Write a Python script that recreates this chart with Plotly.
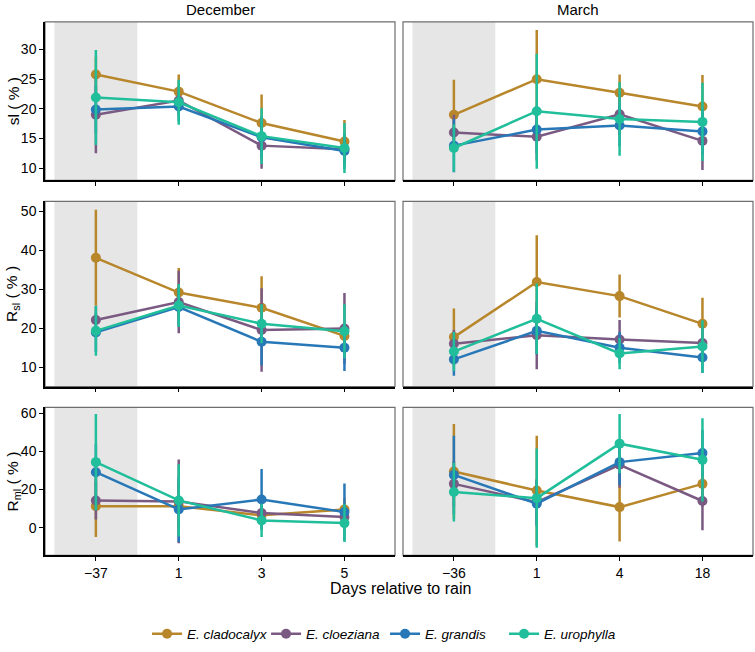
import plotly.graph_objects as go

species = ["E. cladocalyx", "E. cloeziana", "E. grandis", "E. urophylla"]
colors = ["#B8862B", "#7A5A82", "#2878B8", "#20BE9A"]

dec_days = ["−37", "1", "3", "5"]
mar_days = ["−36", "1", "4", "18"]

# sl (%) December
sl_dec_mean = {"E. cladocalyx": [25.8, 22.9, 17.6, 14.5], "E. cloeziana": [19.0, 21.4, 13.8, 13.2],
               "E. grandis": [19.9, 20.4, 15.2, 12.9], "E. urophylla": [21.9, 21.1, 15.4, 13.4]}
sl_dec_err = {"E. cladocalyx": [3.0, 2.9, 4.8, 3.6], "E. cloeziana": [6.5, 2.5, 3.9, 2.5],
              "E. grandis": [4.0, 2.5, 3.5, 3.0], "E. urophylla": [8.0, 3.8, 4.7, 4.2]}
# sl (%) March
sl_mar_mean = {"E. cladocalyx": [19.0, 25.0, 22.7, 20.4], "E. cloeziana": [16.0, 15.3, 19.1, 14.6],
               "E. grandis": [13.8, 16.5, 17.2, 16.2], "E. urophylla": [13.4, 19.6, 18.3, 17.8]}
sl_mar_err = {"E. cladocalyx": [5.9, 8.3, 3.1, 5.3], "E. cloeziana": [3.0, 4.0, 3.5, 4.9],
              "E. grandis": [4.5, 4.0, 3.5, 4.0], "E. urophylla": [4.0, 9.7, 6.2, 6.6]}
# R_sl (%) December
rsl_dec_mean = {"E. cladocalyx": [38.1, 29.2, 25.3, 18.1], "E. cloeziana": [22.2, 26.8, 19.6, 20.0],
                "E. grandis": [19.0, 25.5, 16.6, 15.1], "E. urophylla": [19.4, 25.9, 21.2, 19.3]}
rsl_dec_err = {"E. cladocalyx": [12.3, 6.3, 8.1, 3.0], "E. cloeziana": [3.5, 8.0, 10.7, 9.1],
               "E. grandis": [5.0, 5.0, 6.0, 6.0], "E. urophylla": [6.4, 5.5, 5.0, 6.9]}
# R_sl (%) March
rsl_mar_mean = {"E. cladocalyx": [17.8, 31.9, 28.3, 21.2], "E. cloeziana": [16.1, 18.3, 17.2, 16.3],
                "E. grandis": [12.1, 19.4, 15.1, 12.6], "E. urophylla": [14.1, 22.5, 13.6, 15.4]}
rsl_mar_err = {"E. cladocalyx": [7.3, 12.0, 5.5, 6.7], "E. cloeziana": [3.5, 8.7, 5.0, 4.0],
               "E. grandis": [4.2, 6.0, 4.0, 4.0], "E. urophylla": [5.0, 9.0, 4.0, 6.7]}
# R_ml (%) December
rml_dec_mean = {"E. cladocalyx": [11.3, 11.3, 6.5, 9.6], "E. cloeziana": [14.3, 13.8, 7.7, 5.6],
                "E. grandis": [29.1, 9.6, 14.8, 8.2], "E. urophylla": [34.4, 14.3, 3.8, 2.4]}
rml_dec_err = {"E. cladocalyx": [16.2, 12.0, 6.0, 6.0], "E. cloeziana": [10.0, 22.0, 6.0, 6.0],
               "E. grandis": [15.0, 17.1, 16.0, 15.0], "E. urophylla": [25.3, 19.0, 8.7, 9.9]}
# R_ml (%) March
rml_mar_mean = {"E. cladocalyx": [29.5, 19.5, 10.8, 23.0], "E. cloeziana": [23.0, 13.4, 33.0, 14.0],
                "E. grandis": [27.7, 12.6, 34.4, 39.2], "E. urophylla": [18.7, 15.5, 44.1, 35.6]}
rml_mar_err = {"E. cladocalyx": [24.9, 28.8, 18.0, 12.0], "E. cloeziana": [12.0, 12.0, 12.0, 15.4],
               "E. grandis": [20.6, 12.0, 12.0, 12.0], "E. urophylla": [15.4, 26.1, 15.6, 21.8]}

row_titles = ["sl ( % )", "R<sub>sl</sub> ( % )", "R<sub>ml</sub> ( % )"]
row_ticks = [[10, 15, 20, 25, 30], [10, 20, 30, 40, 50], [0, 20, 40, 60]]
row_ranges = [[7.93, 34.65], [5.15, 52.55], [-14.5, 63.1]]

W, H = 755, 652
col_px = [(45, 395), (403, 753)]
row_px = [(20, 179), (200, 385.7), (406.7, 555)]

panels = [
    [(sl_dec_mean, sl_dec_err), (sl_mar_mean, sl_mar_err)],
    [(rsl_dec_mean, rsl_dec_err), (rsl_mar_mean, rsl_mar_err)],
    [(rml_dec_mean, rml_dec_err), (rml_mar_mean, rml_mar_err)],
]
days = [dec_days, mar_days]

fig = go.Figure()
font_family = "Liberation Sans, Arial, sans-serif"
layout = dict(width=W, height=H, autosize=False, margin=dict(l=0, r=0, t=0, b=0),
              plot_bgcolor="white", paper_bgcolor="white",
              font=dict(family=font_family, size=14, color="black"),
              showlegend=True)
shapes = []
annotations = []

idx = 0
for r in range(3):
    for c in range(2):
        idx += 1
        xa = "xaxis" if idx == 1 else f"xaxis{idx}"
        ya = "yaxis" if idx == 1 else f"yaxis{idx}"
        xr = "x" if idx == 1 else f"x{idx}"
        yr = "y" if idx == 1 else f"y{idx}"
        x0, x1 = col_px[c]
        y0, y1 = row_px[r]
        layout[xa] = dict(domain=[x0 / W, x1 / W], anchor=yr, type="category",
                          categoryorder="array", categoryarray=days[c],
                          range=[-0.614, 3.61], showgrid=False, zeroline=False,
                          showline=True, linecolor="black", linewidth=1.5,
                          ticks="outside", ticklen=4, tickcolor="black", tickwidth=1,
                          showticklabels=(r == 2), tickfont=dict(size=14))
        layout[ya] = dict(domain=[1 - y1 / H, 1 - y0 / H], anchor=xr,
                          range=row_ranges[r], tickvals=row_ticks[r],
                          ticktext=[("−" + str(-v)) if v < 0 else str(v) for v in row_ticks[r]],
                          showgrid=False, zeroline=False,
                          showline=(c == 0), linecolor="black", linewidth=1.5,
                          ticks="outside" if c == 0 else "", ticklen=4, tickcolor="black",
                          showticklabels=(c == 0), tickfont=dict(size=14))
        # shaded pre-rain period
        shapes.append(dict(type="rect", xref=xr, yref=f"{yr} domain", x0=-0.5, x1=0.5, y0=0, y1=1,
                           fillcolor="#E6E6E6", line=dict(width=0), layer="below"))
        # panel border
        shapes.append(dict(type="rect", xref=f"{xr} domain", yref=f"{yr} domain", x0=0, x1=1, y0=0, y1=1,
                           line=dict(color="#6E6E6E", width=1.2), layer="below"))
        means, errs = panels[r][c]
        for s, col in zip(species, colors):
            fig.add_trace(go.Scatter(
                x=days[c], y=means[s], mode="lines+markers", name=f"<i>{s}</i>",
                legendgroup=s, showlegend=(idx == 1),
                line=dict(color=col, width=2.5), marker=dict(color=col, size=10),
                error_y=dict(type="data", array=errs[s], width=0, thickness=2.5, color=col),
                xaxis=xr, yaxis=yr))
    annotations.append(dict(text=row_titles[r], x=13 / W, y=1 - (row_px[r][0] + row_px[r][1]) / 2 / H,
                            xref="paper", yref="paper", textangle=-90, showarrow=False,
                            font=dict(size=15.5), xanchor="center", yanchor="middle"))

for c, name in enumerate(["December", "March"]):
    annotations.append(dict(text=name, x=(col_px[c][0] + col_px[c][1]) / 2 / W, y=1 - 8 / H,
                            xref="paper", yref="paper", showarrow=False, font=dict(size=15),
                            xanchor="center", yanchor="middle"))
annotations.append(dict(text="Days relative to rain", x=400 / W, y=1 - 588 / H, xref="paper", yref="paper",
                        showarrow=False, font=dict(size=16), xanchor="center", yanchor="middle"))

layout["shapes"] = shapes
layout["annotations"] = annotations
layout["legend"] = dict(orientation="h", x=0.51, xanchor="center", y=1 - 634 / H, yanchor="middle",
                        font=dict(size=13.5), entrywidth=74, bgcolor="rgba(0,0,0,0)")
fig.update_layout(**layout)
fig.write_html("out.html")
